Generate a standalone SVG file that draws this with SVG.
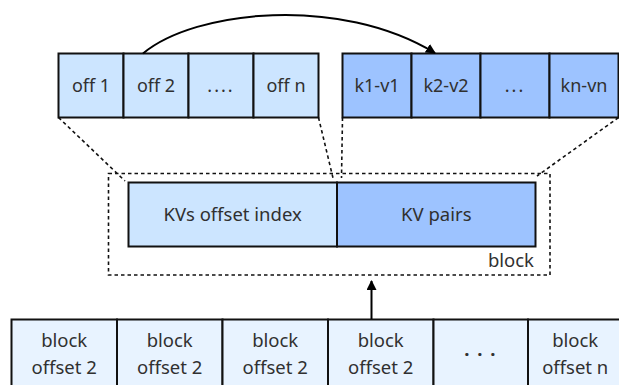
<svg xmlns="http://www.w3.org/2000/svg" width="619" height="385" viewBox="0 0 619 385">
<style>
text{font-family:"Noto Sans","Open Sans","DejaVu Sans",sans-serif;fill:#303030;text-anchor:middle}
.t{font-size:18px}
.b{font-size:18.5px}
.c1{fill:#cce5ff;stroke:#111;stroke-width:2}
.c2{fill:#9dc3ff;stroke:#111;stroke-width:2}
.c3{fill:#e8f3ff;stroke:#111;stroke-width:2}
.dash{fill:none;stroke:#111;stroke-width:1.6;stroke-dasharray:3.5 3}
.arr{fill:none;stroke:#000;stroke-width:2}
</style>
<defs>
<marker id="ah2" viewBox="0 0 10 10" refX="9" refY="5" markerWidth="10" markerHeight="10" markerUnits="userSpaceOnUse" orient="auto">
<path d="M0,0 L10,5 L0,10 z" fill="#000"/>
</marker>
</defs>

<g id="offsets">
<rect class="c1" x="58.5" y="53.5" width="65" height="64"/>
<rect class="c1" x="123.5" y="53.5" width="65" height="64"/>
<rect class="c1" x="188.5" y="53.5" width="65" height="64"/>
<rect class="c1" x="253.5" y="53.5" width="65" height="64"/>
<text class="t" x="91" y="92">off 1</text>
<text class="t" x="156" y="92">off 2</text>
<text class="t" x="221" y="92" letter-spacing="2">....</text>
<text class="t" x="286" y="92">off n</text>
</g>

<g id="kvs">
<rect class="c2" x="342.5" y="53.5" width="69" height="64"/>
<rect class="c2" x="411.5" y="53.5" width="69" height="64"/>
<rect class="c2" x="480.5" y="53.5" width="69" height="64"/>
<rect class="c2" x="549.5" y="53.5" width="69" height="64"/>
<text class="t" x="377" y="92">k1-v1</text>
<text class="t" x="446" y="92">k2-v2</text>
<text class="t" x="515" y="92" letter-spacing="2">...</text>
<text class="t" x="584" y="92">kn-vn</text>
</g>

<g id="block">
<rect class="dash" x="108.5" y="173.5" width="441.5" height="101.5"/>
<rect class="c1" x="128.5" y="182.5" width="208.5" height="64"/>
<rect class="c2" x="337" y="182.5" width="198.5" height="64"/>
<text class="b" x="232.7" y="221">KVs offset index</text>
<text class="b" x="436.3" y="221">KV pairs</text>
<text class="b" x="534" y="267" style="text-anchor:end">block</text>
</g>

<g id="index">
<rect class="c3" x="11.5" y="319.5" width="105.5" height="80"/>
<rect class="c3" x="117" y="319.5" width="105.5" height="80"/>
<rect class="c3" x="222.5" y="319.5" width="105.5" height="80"/>
<rect class="c3" x="328" y="319.5" width="105.5" height="80"/>
<rect class="c3" x="433.5" y="319.5" width="94.5" height="80"/>
<rect class="c3" x="528" y="319.5" width="94.5" height="80"/>
<text class="b" x="64.2" y="347">block</text>
<text class="b" x="64.2" y="373.5">offset 2</text>
<text class="b" x="169.7" y="347">block</text>
<text class="b" x="169.7" y="373.5">offset 2</text>
<text class="b" x="275.2" y="347">block</text>
<text class="b" x="275.2" y="373.5">offset 2</text>
<text class="b" x="380.7" y="347">block</text>
<text class="b" x="380.7" y="373.5">offset 2</text>
<text class="b" x="480.7" y="361" letter-spacing="1.5" font-weight="bold">· · ·</text>
<text class="b" x="575.2" y="347">block</text>
<text class="b" x="575.2" y="373.5">offset n</text>
</g>

<g id="connectors">
<path class="dash" d="M58.5,117.5 L125,181"/>
<path class="dash" d="M318.5,117.5 L333,178"/>
<path class="dash" d="M342.5,117.5 L341.5,178"/>
<path class="dash" d="M618.5,117.5 L537,176"/>
<path class="arr" d="M143,53.5 C195,10 340,-5 435,53" marker-end="url(#ah2)"/>
<path class="arr" d="M371.5,319 L371.5,281" marker-end="url(#ah2)"/>
</g>
</svg>
